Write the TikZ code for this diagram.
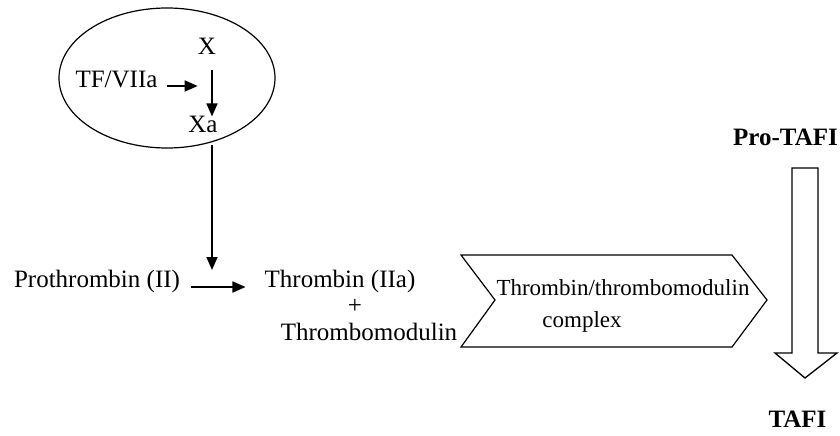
\documentclass[tikz,border=0pt]{standalone}
\usepackage{fontspec}
\setmainfont{Liberation Serif}
\usetikzlibrary{arrows.meta,calc,shapes.geometric}
\begin{document}
\begin{tikzpicture}[x=1pt,y=-1pt,
  lbl/.style={inner sep=0pt,anchor=base,font=\fontsize{25}{30}\selectfont},
  blbl/.style={lbl,font=\fontsize{25}{30}\selectfont\bfseries},
  clbl/.style={inner sep=0pt,anchor=base,font=\fontsize{23}{28}\selectfont},
  arr/.style={line width=1.7pt,-{Triangle[length=13pt,width=11pt]}},
  outline/.style={line width=1.2pt}]
\useasboundingbox (0,0) rectangle (840,436);
% ellipse
\node[ellipse,draw,outline,minimum width=216pt,minimum height=140pt,inner sep=0pt] (ell) at (167,78) {};
% labels
\node[lbl] (X) at (207,55) {X};
\node[lbl] (Xa) at (203,132) {Xa};
\node[lbl] (tf) at (116.5,88) {TF/VIIa};
\node[lbl] (pro) at (97,287) {Prothrombin (II)};
\node[lbl] (thr) at (340,287) {Thrombin (IIa)};
\node[lbl] (plus) at (355,313) {+};
\node[lbl] (tm) at (369,340) {Thrombomodulin};
\node[clbl] (cx1) at (623,295) {Thrombin/thrombomodulin};
\node[clbl] (cx2) at (582,327) {complex};
\node[blbl] (ptafi) at (785.5,145) {Pro-TAFI};
\node[blbl] (tafi) at (797.5,427) {TAFI};
% connectors
\coordinate (tipII) at (212,270);
\draw[arr] ($(tf.base east)+(9,-2)$) -- ($(tf.base east)+(40,-2)$);
\draw[arr] ($(X.south)+(5,15)$) -- ($(Xa.north)+(9,1)$);
\draw[arr] ($(Xa.south)+(9,13)$) -- (tipII);
\draw[arr,shorten <=11pt,shorten >=19pt] (pro.base east) -- (thr.base west);
% chevron
\coordinate (c1) at (461,255);
\coordinate (c2) at (732,255);
\coordinate (c3) at (767,300);
\coordinate (c4) at (732,347);
\coordinate (c5) at (461,347);
\coordinate (c6) at (495,300);
\draw[outline,line join=miter] (c1) -- (c2) -- (c3) -- (c4) -- (c5) -- (c6) -- cycle;
% block arrow
\draw[line width=1.3pt,line join=miter] (792,168) -- (818,168) -- (818,353) -- (837,353) -- (805,378) -- (775,353) -- (792,353) -- cycle;
\end{tikzpicture}
\end{document}
